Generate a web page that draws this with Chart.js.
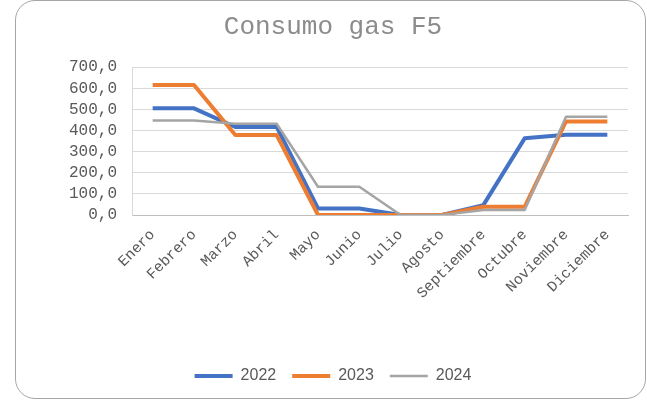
<!DOCTYPE html>
<html lang="es">
<head>
<meta charset="utf-8">
<title>Consumo gas F5</title>
<script src="https://cdn.jsdelivr.net/npm/chart.js@4.4.1/dist/chart.umd.min.js"></script>
<style>
    html, body { margin: 0; padding: 0; background: #ffffff; }
    #contenedor { position: relative; width: 647px; height: 401px; }
    #grafico { position: absolute; left: 0; top: 0; }
    /* marco redondeado alrededor del gráfico */
    #marco {
        position: absolute; left: 15px; top: 0px;
        width: 629px; height: 397px;
        border: 1px solid #a6a6a6; border-radius: 20px;
        pointer-events: none;
    }
</style>
</head>
<body>
<div id="contenedor">
    <canvas id="grafico" width="647" height="401"></canvas>
    <div id="marco"></div>
</div>
<script>
// Datos
const meses = ['Enero', 'Febrero', 'Marzo', 'Abril', 'Mayo', 'Junio', 'Julio',
               'Agosto', 'Septiembre', 'Octubre', 'Noviembre', 'Diciembre'];
const consumo2022 = [505, 505, 417, 417, 31, 31, 0, 0, 47, 363, 380, 380];
const consumo2023 = [616, 616, 379, 379, 0, 0, 0, 0, 39, 39, 443, 443];
const consumo2024 = [447, 447, 432, 432, 134, 134, 0, 0, 24, 24, 465, 465];
const ticksY = [0, 100, 200, 300, 400, 500, 600, 700];

const fuenteMono = "'Liberation Mono', 'Courier New', monospace";
const fuenteSans = "'Liberation Sans', Arial, sans-serif";

// formato español: 700,0
const formatear = v => v.toFixed(1).replace('.', ',');

const ctx = document.getElementById('grafico').getContext('2d');

new Chart(ctx, {
    type: 'line',
    data: {
        labels: meses,
        datasets: [
            { label: '2022', data: consumo2022, borderColor: '#4472C4', backgroundColor: '#4472C4', borderWidth: 4, order: 3 },
            { label: '2023', data: consumo2023, borderColor: '#ED7D31', backgroundColor: '#ED7D31', borderWidth: 4, order: 2 },
            { label: '2024', data: consumo2024, borderColor: '#A5A5A5', backgroundColor: '#A5A5A5', borderWidth: 2.5, order: 1 }
        ]
    },
    options: {
        responsive: false,
        animation: false,
        elements: {
            point: { radius: 0, hoverRadius: 0 },
            line: { tension: 0, borderCapStyle: 'butt', borderJoinStyle: 'round' }
        },
        layout: { padding: { left: 38, right: 19, top: 0, bottom: 7 } },
        plugins: {
            title: {
                display: true,
                text: 'Consumo gas F5',
                color: '#8c8c8c',
                font: { family: fuenteMono, size: 26, weight: 'normal' },
                padding: { top: 12, bottom: 24 }
            },
            legend: {
                position: 'bottom',
                labels: {
                    usePointStyle: true,
                    pointStyle: 'line',
                    pointStyleWidth: 38,
                    padding: 16,
                    color: '#595959',
                    font: { family: fuenteSans, size: 16 },
                    sort: (a, b) => a.datasetIndex - b.datasetIndex
                }
            },
            tooltip: { enabled: false }
        },
        scales: {
            x: {
                offset: true,
                grid: { display: false, drawTicks: false },
                border: { display: true, color: '#bfbfbf', width: 1 },
                ticks: {
                    color: '#595959',
                    font: { family: fuenteMono, size: 15 },
                    minRotation: 45,
                    maxRotation: 45,
                    autoSkip: false,
                    padding: 11
                },
                afterFit: escala => { escala.height = 137; }
            },
            y: {
                min: 0,
                max: 700,
                afterBuildTicks: escala => { escala.ticks = ticksY.map(v => ({ value: v })); },
                grid: { color: '#d9d9d9', lineWidth: 1, drawTicks: false },
                border: { display: true, color: '#d9d9d9', width: 1 },
                ticks: {
                    color: '#595959',
                    font: { family: fuenteMono, size: 16 },
                    padding: 15,
                    autoSkip: false,
                    callback: v => formatear(v)
                },
                afterFit: escala => { escala.width = 94; }
            }
        }
    }
});
</script>
</body>
</html>
